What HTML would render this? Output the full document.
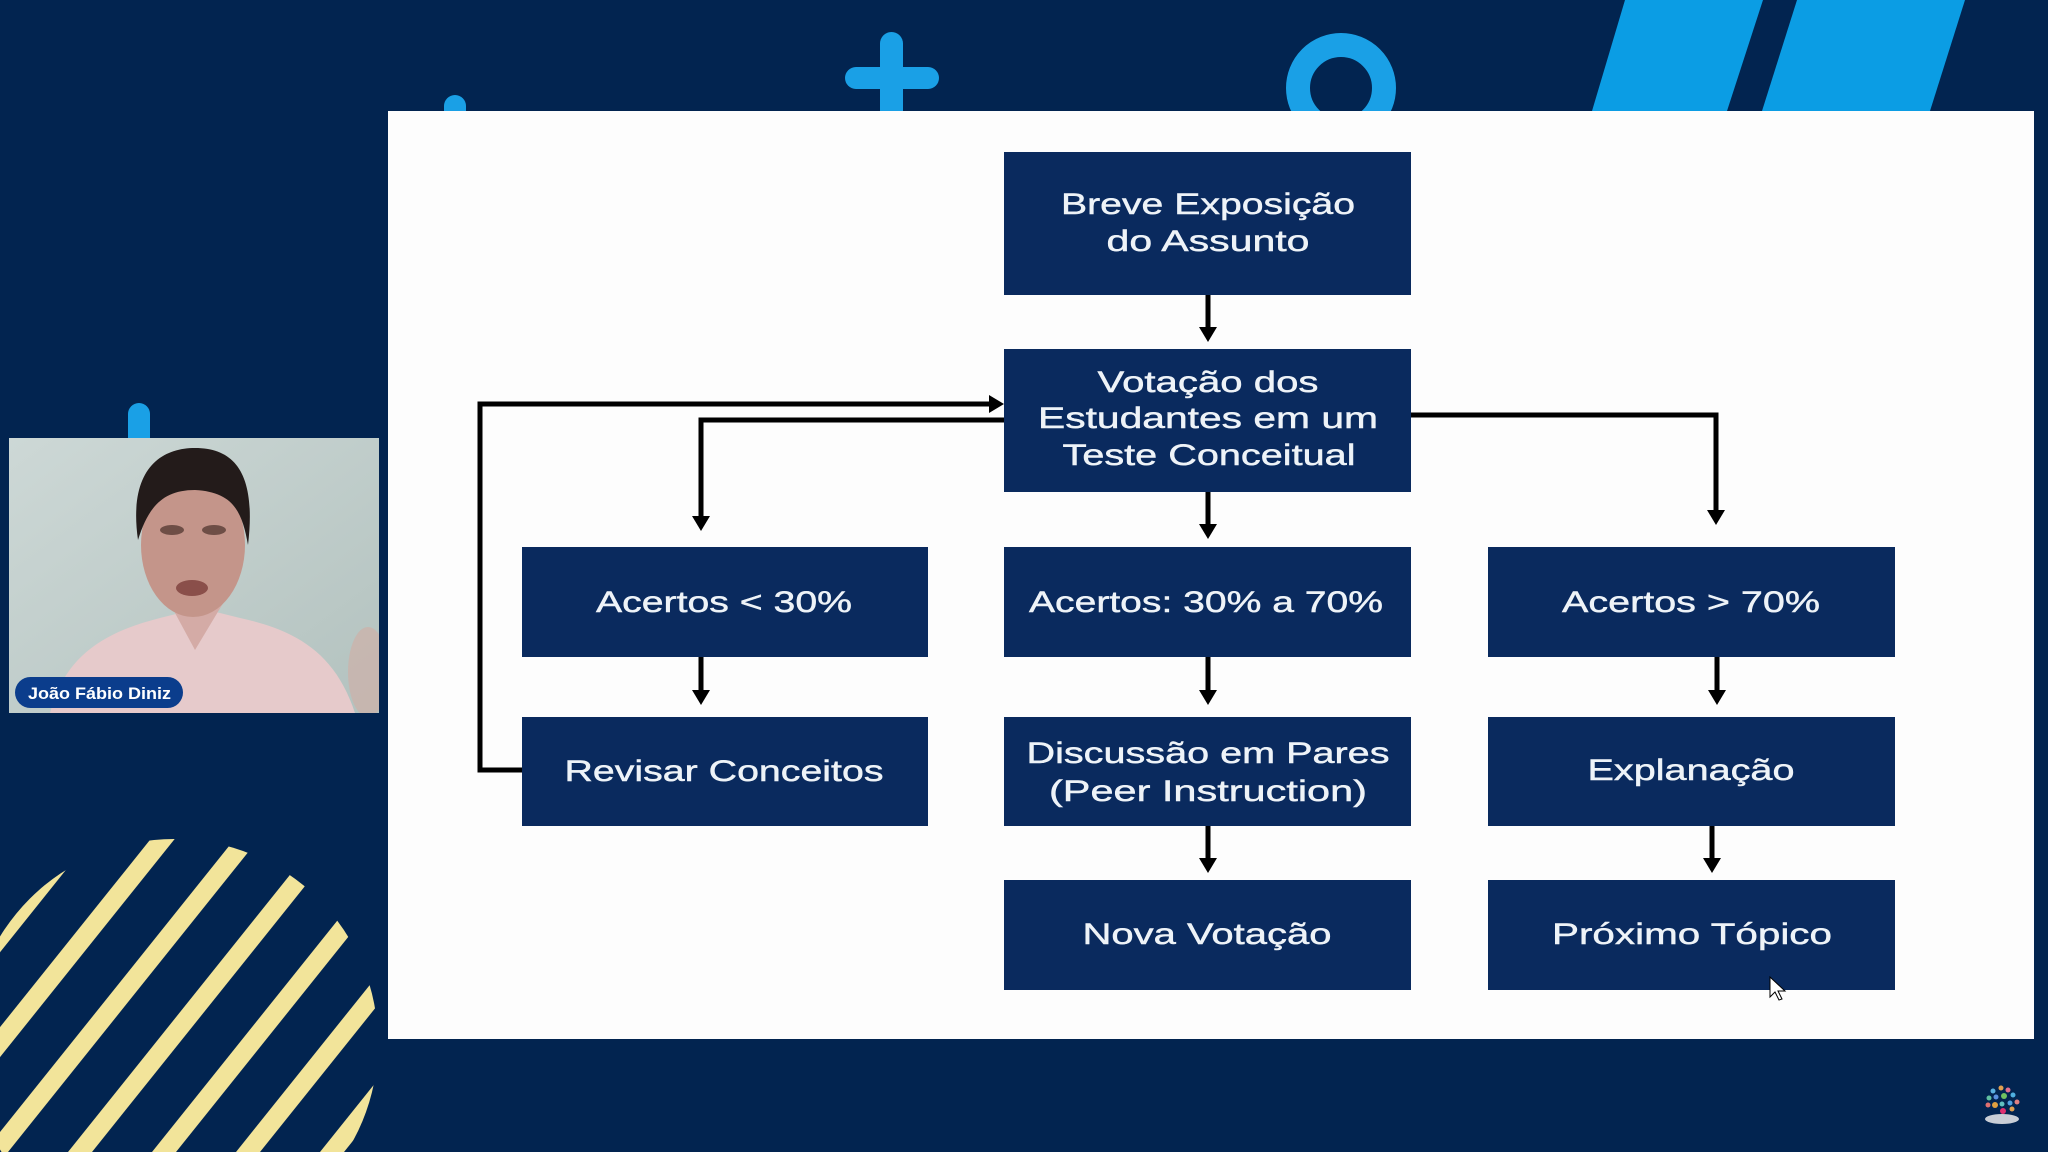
<!DOCTYPE html>
<html><head><meta charset="utf-8"><style>
html,body{margin:0;padding:0;background:#022450;}
body{width:2048px;height:1152px;overflow:hidden;}
svg{display:block;}
.t{font-family:"Liberation Sans",Arial,sans-serif;font-size:30px;fill:#eef3f8;stroke:#eef3f8;stroke-width:0.45;}
</style></head><body>
<svg width="2048" height="1152" viewBox="0 0 2048 1152" xmlns="http://www.w3.org/2000/svg">
<defs>
<clipPath id="yc"><circle cx="174" cy="1043" r="204"/></clipPath>
<clipPath id="camc"><rect x="9" y="438" width="370" height="275"/></clipPath>
<linearGradient id="cam" x1="0" y1="0" x2="1" y2="1">
<stop offset="0" stop-color="#cdd8d6"/><stop offset="1" stop-color="#b3c2bf"/>
</linearGradient>
</defs>
<rect x="0" y="0" width="2048" height="1152" fill="#022450"/>

<!-- top decorations -->
<polygon points="1625,0 1763,0 1727,111 1592,111" fill="#0b9de4"/>
<polygon points="1797,0 1965,0 1930,111 1762,111" fill="#0b9de4"/>
<rect x="880" y="32" width="23" height="100" rx="11.5" fill="#1aa0e6"/>
<rect x="845" y="67" width="94" height="22" rx="11" fill="#1aa0e6"/>
<circle cx="1341" cy="88" r="43" fill="none" stroke="#1aa0e6" stroke-width="24"/>
<rect x="444" y="95" width="22" height="40" rx="11" fill="#1aa0e6"/>
<rect x="128" y="403" width="22" height="50" rx="11" fill="#1aa0e6"/>

<!-- yellow stripes -->
<g clip-path="url(#yc)" fill="#f2e49a">
<polygon points="320,1152 344,1152 706,700 682,700"/>
<polygon points="236,1152 260,1152 622,700 598,700"/>
<polygon points="152,1152 176,1152 538,700 514,700"/>
<polygon points="68,1152 92,1152 454,700 430,700"/>
<polygon points="-16,1152 8,1152 370,700 346,700"/>
<polygon points="-100,1152 -76,1152 286,700 262,700"/>
<polygon points="-184,1152 -160,1152 202,700 178,700"/>
</g>

<!-- camera -->
<g clip-path="url(#camc)">
<rect x="9" y="438" width="370" height="275" fill="url(#cam)"/>
<path d="M50,713 C65,655 105,632 160,618 L200,608 L240,618 C295,630 335,652 355,713 Z" fill="#e6cacb"/>
<path d="M168,600 L195,650 L225,600 Z" fill="#d4aba6"/>
<ellipse cx="193" cy="545" rx="52" ry="72" fill="#c4958a"/>
<path d="M138,540 C128,470 160,448 195,448 C238,448 256,478 248,545 C242,510 232,492 195,490 C162,490 148,508 138,540 Z" fill="#231b1a"/>
<ellipse cx="172" cy="530" rx="12" ry="5" fill="#6e4e46"/>
<ellipse cx="214" cy="530" rx="12" ry="5" fill="#6e4e46"/>
<ellipse cx="192" cy="588" rx="16" ry="8" fill="#8a4f4a"/>
<ellipse cx="368" cy="672" rx="20" ry="45" fill="#cdb0a8" opacity="0.7"/>
</g>
<rect x="15" y="677" width="168" height="31" rx="15.5" fill="#0b3d8c"/>
<text x="28" y="699" font-family="Liberation Sans, Arial, sans-serif" font-weight="bold" font-size="17" fill="#ffffff" textLength="143" lengthAdjust="spacingAndGlyphs">João Fábio Diniz</text>

<!-- panel -->
<rect x="388" y="111" width="1646" height="928" fill="#fdfdfd"/>

<!-- boxes -->
<g fill="#0a2a5e">
<rect x="1004" y="152" width="407" height="143"/>
<rect x="1004" y="349" width="407" height="143"/>
<rect x="522" y="547" width="406" height="110"/>
<rect x="1004" y="547" width="407" height="110"/>
<rect x="1488" y="547" width="407" height="110"/>
<rect x="522" y="717" width="406" height="109"/>
<rect x="1004" y="717" width="407" height="109"/>
<rect x="1488" y="717" width="407" height="109"/>
<rect x="1004" y="880" width="407" height="110"/>
<rect x="1488" y="880" width="407" height="110"/>
</g>

<!-- connectors -->
<g stroke="#000" stroke-width="5" fill="none">
<line x1="1208" y1="295" x2="1208" y2="330"/>
<line x1="1208" y1="492" x2="1208" y2="527"/>
<line x1="1208" y1="657" x2="1208" y2="693"/>
<line x1="1208" y1="826" x2="1208" y2="861"/>
<line x1="701" y1="657" x2="701" y2="693"/>
<line x1="1717" y1="657" x2="1717" y2="693"/>
<line x1="1712" y1="826" x2="1712" y2="861"/>
<polyline points="522,770 480,770 480,404 990,404"/>
<polyline points="1004,420 701,420 701,519"/>
<polyline points="1411,415 1716,415 1716,513"/>
</g>
<g fill="#000">
<polygon points="1199,327 1217,327 1208,342"/>
<polygon points="1199,524 1217,524 1208,539"/>
<polygon points="1199,690 1217,690 1208,705"/>
<polygon points="1199,858 1217,858 1208,873"/>
<polygon points="692,690 710,690 701,705"/>
<polygon points="1708,690 1726,690 1717,705"/>
<polygon points="1703,858 1721,858 1712,873"/>
<polygon points="989,395 989,413 1004,404"/>
<polygon points="692,516 710,516 701,531"/>
<polygon points="1707,510 1725,510 1716,525"/>
</g>

<!-- labels -->
<text class="t" x="1208" y="214" text-anchor="middle" textLength="294" lengthAdjust="spacingAndGlyphs">Breve Exposição</text>
<text class="t" x="1208" y="251" text-anchor="middle" textLength="203" lengthAdjust="spacingAndGlyphs">do Assunto</text>
<text class="t" x="1208" y="392" text-anchor="middle" textLength="221" lengthAdjust="spacingAndGlyphs">Votação dos</text>
<text class="t" x="1208" y="428" text-anchor="middle" textLength="340" lengthAdjust="spacingAndGlyphs">Estudantes em um</text>
<text class="t" x="1209" y="465" text-anchor="middle" textLength="293" lengthAdjust="spacingAndGlyphs">Teste Conceitual</text>
<text class="t" x="724" y="612" text-anchor="middle" textLength="256" lengthAdjust="spacingAndGlyphs">Acertos &lt; 30%</text>
<text class="t" x="1206" y="612" text-anchor="middle" textLength="354" lengthAdjust="spacingAndGlyphs">Acertos: 30% a 70%</text>
<text class="t" x="1691" y="612" text-anchor="middle" textLength="258" lengthAdjust="spacingAndGlyphs">Acertos &gt; 70%</text>
<text class="t" x="724" y="781" text-anchor="middle" textLength="319" lengthAdjust="spacingAndGlyphs">Revisar Conceitos</text>
<text class="t" x="1208" y="763" text-anchor="middle" textLength="363" lengthAdjust="spacingAndGlyphs">Discussão em Pares</text>
<text class="t" x="1208" y="801" text-anchor="middle" textLength="318" lengthAdjust="spacingAndGlyphs">(Peer Instruction)</text>
<text class="t" x="1691" y="780" text-anchor="middle" textLength="207" lengthAdjust="spacingAndGlyphs">Explanação</text>
<text class="t" x="1207" y="944" text-anchor="middle" textLength="249" lengthAdjust="spacingAndGlyphs">Nova Votação</text>
<text class="t" x="1692" y="944" text-anchor="middle" textLength="280" lengthAdjust="spacingAndGlyphs">Próximo Tópico</text>

<!-- cursor -->
<polygon points="1770,977 1770,997 1775,992 1779,1000 1782,999 1778,991 1785,991" fill="#fff" stroke="#000" stroke-width="1"/>

<!-- logo -->
<g>
<ellipse cx="2002" cy="1119" rx="17" ry="5" fill="#c9ced6"/>
<circle cx="1993" cy="1091" r="2.5" fill="#5ab0e0"/>
<circle cx="2001" cy="1088" r="2.5" fill="#e0a050"/>
<circle cx="2008" cy="1090" r="2.5" fill="#e07090"/>
<circle cx="1989" cy="1098" r="2.5" fill="#60c0a0"/>
<circle cx="1996" cy="1097" r="2.5" fill="#5a90e0"/>
<circle cx="2004" cy="1096" r="3" fill="#70c060"/>
<circle cx="2013" cy="1095" r="2.5" fill="#50b0e0"/>
<circle cx="1988" cy="1105" r="2.5" fill="#e07070"/>
<circle cx="1995" cy="1105" r="3" fill="#e0a040"/>
<circle cx="2002" cy="1104" r="2.5" fill="#60c0c0"/>
<circle cx="2010" cy="1103" r="2.5" fill="#50a0e0"/>
<circle cx="2017" cy="1102" r="2.5" fill="#e08080"/>
<circle cx="2003" cy="1111" r="3" fill="#e03070"/>
<circle cx="2012" cy="1109" r="2.5" fill="#e0a050"/>
</g>
</svg>
</body></html>
